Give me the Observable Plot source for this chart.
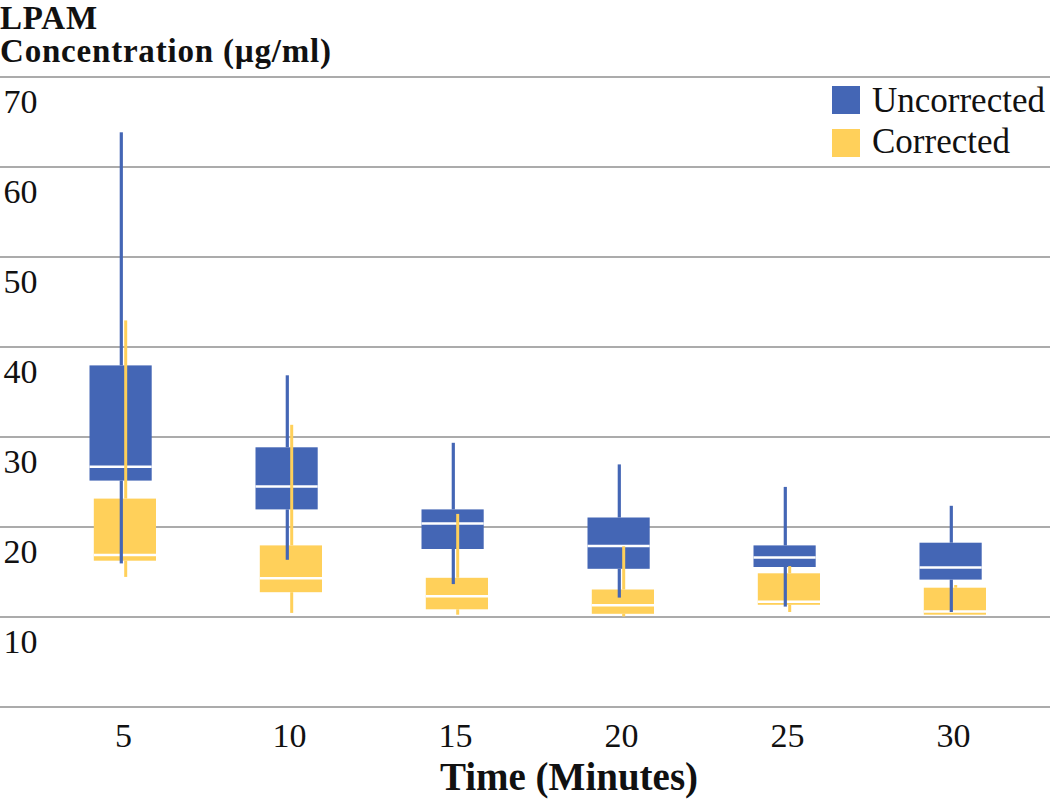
<!DOCTYPE html>
<html>
<head>
<meta charset="utf-8">
<script src="https://cdn.jsdelivr.net/npm/d3@7"></script>
<script src="https://cdn.jsdelivr.net/npm/@observablehq/plot@0.6"></script>
<style>
  html, body { margin: 0; padding: 0; background: #fff; }
  #wrap { position: relative; width: 1050px; height: 803px; overflow: hidden; font-family: "Liberation Serif", "Times New Roman", serif; color: #111; }
  #chart { position: absolute; left: 0; top: 0; }
  .title { position: absolute; left: 0; font-weight: bold; font-size: 33px; line-height: 37px; letter-spacing: 0.8px; white-space: nowrap; }
  .xlabel { position: absolute; left: 369px; width: 400px; text-align: center; top: 757px; font-weight: bold; font-size: 39px; line-height: 40px; white-space: nowrap; }
  .leg { position: absolute; left: 832px; font-size: 35px; line-height: 36px; white-space: nowrap; }
  .leg .sw { position: absolute; left: 0; width: 28px; height: 28px; }
  .leg .lb { position: absolute; left: 40px; top: 0; }
</style>
</head>
<body>
<div id="wrap">
  <div id="chart"></div>
  <div class="title" style="top:0px">LPAM</div>
  <div class="title" style="top:33px">Concentration (µg/ml)</div>
  <div class="leg" style="top:83px"><div class="sw" style="top:3px;background:#4466B5"></div><div class="lb">Uncorrected</div></div>
  <div class="leg" style="top:124px"><div class="sw" style="top:5px;background:#FFD05A"></div><div class="lb">Corrected</div></div>
  <div class="xlabel">Time (Minutes)</div>
</div>
<script>
const times = ["5", "10", "15", "20", "25", "30"];
const uncMin = [15.9, 16.3, 13.6, 12.1, 11.1, 10.5];
const uncQ1  = [25.1, 21.9, 17.5, 15.3, 15.5, 14.1];
const uncMed = [26.7, 24.5, 20.4, 17.9, 16.6, 15.5];
const uncQ3  = [37.9, 28.8, 21.9, 21.0, 17.9, 18.2];
const uncMax = [63.8, 36.8, 29.3, 26.9, 24.4, 22.3];
const corMin = [14.4, 10.4, 10.2, 10.0, 10.5, 10.2];
const corQ1  = [16.2, 12.7, 10.8, 10.3, 11.3, 10.2];
const corMed = [16.9, 14.3, 12.3, 11.3, 11.7, 10.6];
const corQ3  = [23.1, 17.9, 14.3, 13.0, 14.8, 13.2];
const corMax = [42.9, 31.3, 21.4, 17.8, 15.6, 13.5];
const gridValues = [0, 10, 20, 30, 40, 50, 60, 70];
const yTickLabels = [10, 20, 30, 40, 50, 60, 70];

const blue = "#4466B5";
const yellow = "#FFD05A";

const unc = times.map((t, i) => ({t, min: uncMin[i], q1: uncQ1[i], med: uncMed[i], q3: uncQ3[i], max: uncMax[i]}));
const cor = times.map((t, i) => ({t, min: corMin[i], q1: corQ1[i], med: corMed[i], q3: corQ3[i], max: corMax[i]}));

const bI = {insetLeft: 49.5, insetRight: 54.3};
const cI = {insetLeft: 53.8, insetRight: 50};

const plot = Plot.plot({
  width: 1050,
  height: 803,
  marginTop: 76.5,
  marginBottom: 96.5,
  marginLeft: 40,
  marginRight: 14,
  style: {fontFamily: "Liberation Serif, Times New Roman, serif", fontSize: "34px", background: "transparent", color: "#111"},
  x: {type: "band", domain: times, padding: 0, axis: null},
  y: {domain: [0, 70], axis: null},
  marks: [
    Plot.ruleY(gridValues, {stroke: "#ababab", strokeWidth: 2, insetLeft: -40, insetRight: -14}),
    Plot.text(yTickLabels, {y: d => d, text: d => String(d), frameAnchor: "left", lineAnchor: "middle", dx: -37, dy: 25, textAnchor: "start", fontSize: 34, fill: "#111"}),
    Plot.text(times, {x: d => d, text: d => d, frameAnchor: "bottom", lineAnchor: "middle", dy: 29, fontSize: 34, fill: "#111"}),
    Plot.barY(unc, {x: "t", y1: "q1", y2: "q3", fill: blue, ...bI}),
    Plot.tickY(unc, {x: "t", y: "med", stroke: "white", strokeWidth: 2.5, ...bI}),
    Plot.barY(cor, {x: "t", y1: "q1", y2: "q3", fill: yellow, ...cI}),
    Plot.tickY(cor, {x: "t", y: "med", stroke: "white", strokeWidth: 2.5, ...cI}),
    Plot.ruleX(unc, {x: "t", y1: "q3", y2: "max", stroke: blue, strokeWidth: 3.2, dx: -2.2}),
    Plot.ruleX(unc, {x: "t", y1: "min", y2: "q1", stroke: blue, strokeWidth: 3.2, dx: -2.2}),
    Plot.ruleX(cor, {x: "t", y1: "q3", y2: "max", stroke: yellow, strokeWidth: 3, dx: 2.2}),
    Plot.ruleX(cor, {x: "t", y1: "min", y2: "q1", stroke: yellow, strokeWidth: 3, dx: 2.2})
  ]
});
document.getElementById("chart").appendChild(plot);
</script>
</body>
</html>
